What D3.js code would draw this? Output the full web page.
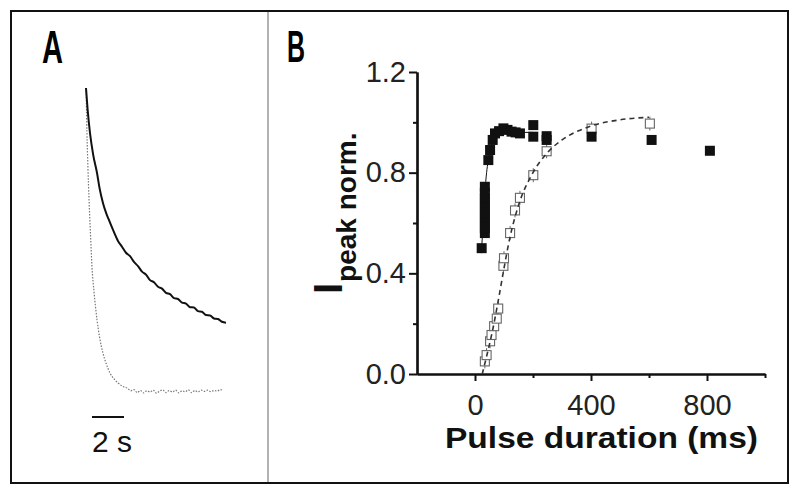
<!DOCTYPE html>
<html><head><meta charset="utf-8">
<script src="https://cdn.jsdelivr.net/npm/d3@7"></script>
<style>body{margin:0;background:#fff}svg{display:block}</style>
</head><body>
<svg id="c" width="800" height="495"></svg>
<script>
// ---------- Panel A: normalized current traces (time in s, normalized amplitude)
const slowTrace = [[0,1.0],[0.1,0.93],[0.25,0.852],[0.45,0.78],[0.69,0.72],[0.85,0.67],[1.06,0.622],[1.25,0.59],[1.4,0.57],[1.69,0.533],[2.0,0.497],[2.25,0.478],[2.5,0.458],[2.75,0.447],[3.0,0.428],[3.25,0.414],[3.5,0.396],[3.75,0.386],[4.0,0.368],[4.25,0.361],[4.5,0.346],[4.75,0.340],[5.0,0.326],[5.25,0.322],[5.5,0.309],[5.75,0.306],[6.0,0.294],[6.25,0.291],[6.5,0.279],[6.75,0.278],[7.0,0.266],[7.25,0.264],[7.5,0.253],[7.75,0.252],[8.0,0.242],[8.25,0.240],[8.5,0.231],[8.75,0.228]];
const fastTrace = [[0,1.0],[0.03,0.93],[0.06,0.852],[0.12,0.74],[0.19,0.632],[0.28,0.52],[0.375,0.411],[0.5,0.33],[0.69,0.237],[0.85,0.18],[1.06,0.128],[1.25,0.095],[1.5,0.0625],[1.8,0.04],[2.0,0.03],[2.31,0.018],[2.6,0.012],[2.8,0.004],[3.0,0.008],[3.2,-0.002],[3.4,0.005],[3.6,-0.003],[3.8,0.004],[4.0,0.0],[4.2,0.006],[4.4,-0.004],[4.6,0.003],[4.8,0.007],[5.0,-0.002],[5.2,0.005],[5.4,0.0],[5.6,0.006],[5.8,-0.003],[6.0,0.004],[6.2,0.001],[6.4,0.007],[6.6,-0.002],[6.8,0.005],[7.0,0.0],[7.2,0.006],[7.4,0.002],[7.6,0.006],[7.8,0.001],[8.0,0.005],[8.2,0.003],[8.4,0.008],[8.55,0.004]];
const scaleBar = [0.375, 2.375];
const scaleBarLabel = "2 s";

// ---------- Panel B: Ipeak norm. vs pulse duration (ms)
const filledPts = [[23,0.50],[34,0.56],[34,0.58],[34,0.60],[34,0.62],[34,0.64],[34,0.66],[34,0.68],[34,0.70],[34,0.72],[34,0.744],[46,0.85],[52,0.89],[61,0.93],[69,0.956],[83,0.965],[98,0.976],[112,0.97],[126,0.963],[140,0.96],[155,0.956],[201,0.989],[201,0.943],[247,0.945],[247,0.93],[402,0.943],[609,0.93],[810,0.887]];
const openPts = [[34,0.05],[40,0.075],[52,0.13],[57,0.155],[66,0.19],[75,0.22],[80,0.26],[98,0.43],[100,0.46],[121,0.56],[138,0.65],[155,0.70],[201,0.79],[247,0.885],[402,0.975],[603,0.995]];
const openFit = [[25,0.0],[40,0.07],[60,0.17],[80,0.29],[100,0.42],[120,0.54],[150,0.67],[200,0.80],[250,0.88],[300,0.93],[400,0.985],[500,1.01],[600,1.02]];
const filledFit = [[22,0.48],[28,0.6],[34,0.72],[40,0.8],[50,0.87],[60,0.92],[75,0.95],[100,0.96],[200,0.96]];
const yTicksMajor = [0, 0.4, 0.8, 1.2];
const yTicksMinor = [0.2, 0.6, 1.0];
const xTicksMajor = [0, 400, 800];
const xTicksMinor = [200, 600, 1000];
const xLabel = "Pulse duration (ms)";
const yLabelMain = "I", yLabelSub = "peak norm.";

const svg = d3.select("#c");
const FONT = "'Liberation Sans', Arial, sans-serif";

// frame
svg.append("rect").attr("x",11).attr("y",11).attr("width",777).attr("height",472)
  .attr("fill","none").attr("stroke","#111").attr("stroke-width",2);
svg.append("line").attr("x1",268).attr("x2",268).attr("y1",12).attr("y2",482)
  .attr("stroke","#999").attr("stroke-width",1.5);

// panel letters
svg.append("text").attr("x",42).attr("y",63).attr("textLength",21).attr("lengthAdjust","spacingAndGlyphs")
  .attr("font-family","'Liberation Sans Narrow', "+FONT).attr("font-weight","bold").attr("font-size",46).text("A");
svg.append("text").attr("x",287).attr("y",62).attr("textLength",18).attr("lengthAdjust","spacingAndGlyphs")
  .attr("font-family","'Liberation Sans Narrow', "+FONT).attr("font-weight","bold").attr("font-size",44).text("B");

// ----- Panel A
const ax = d3.scaleLinear().domain([0, 8.75]).range([86, 226]);
const ay = d3.scaleLinear().domain([0, 1]).range([392, 88]);
const aline = d3.line().x(d=>ax(d[0])).y(d=>ay(d[1])).curve(d3.curveMonotoneX);
svg.append("path").datum(fastTrace).attr("d",aline).attr("fill","none")
  .attr("stroke","#777").attr("stroke-width",1.2).attr("stroke-dasharray","1.5,1.5");
svg.append("path").datum(slowTrace).attr("d",aline).attr("fill","none")
  .attr("stroke","#111").attr("stroke-width",2);
svg.append("line").attr("x1",ax(scaleBar[0])).attr("x2",ax(scaleBar[1])).attr("y1",417).attr("y2",417)
  .attr("stroke","#111").attr("stroke-width",2);
svg.append("text").attr("x",ax(scaleBar[0])).attr("y",452).attr("font-family",FONT).attr("font-size",30)
  .attr("fill","#111").text(scaleBarLabel);

// ----- Panel B
const x = d3.scaleLinear().domain([-200, 1000]).range([417, 765]);
const y = d3.scaleLinear().domain([0, 1.2]).range([374, 72]);

const gB = svg.append("g");
// axes
const yAxis = d3.axisLeft(y).tickValues(yTicksMajor).tickSize(8).tickSizeOuter(0).tickPadding(3).tickFormat(d3.format(".1f"));
const yMinor = d3.axisLeft(y).tickValues(yTicksMinor).tickSize(4).tickSizeOuter(0).tickFormat("");
const xAxis = d3.axisBottom(x).tickValues(xTicksMajor).tickSize(7).tickSizeOuter(0).tickPadding(6).tickFormat(d3.format("d"));
const xMinor = d3.axisBottom(x).tickValues(xTicksMinor).tickSize(4).tickSizeOuter(0).tickFormat("");

function styleAxis(g){
  g.select(".domain").attr("stroke","#111").attr("stroke-width",2.2);
  g.selectAll(".tick line").attr("stroke","#111").attr("stroke-width",2);
  g.selectAll(".tick text").attr("font-family",FONT).attr("font-size",29).attr("fill","#222");
}
gB.append("g").attr("transform","translate(417,0)").call(yMinor).call(styleAxis);
gB.append("g").attr("transform","translate(417,0)").call(yAxis).call(styleAxis);
gB.append("g").attr("transform","translate(0,374)").call(xMinor).call(styleAxis);
gB.append("g").attr("transform","translate(0,374)").call(xAxis).call(styleAxis)
  .selectAll(".tick text").attr("dy","0.95em");

// labels
svg.append("text").attr("x",445).attr("y",448).attr("textLength",313).attr("lengthAdjust","spacingAndGlyphs")
  .attr("font-family",FONT).attr("font-weight","bold").attr("font-size",29).attr("fill","#111").text(xLabel);
const yl = svg.append("text").attr("transform","translate(342,294) rotate(-90)")
  .attr("font-family",FONT).attr("font-weight","bold").attr("fill","#111");
yl.append("tspan").attr("font-size",40).text(yLabelMain);
yl.append("tspan").attr("font-size",28).attr("dy",14).attr("dx",1).text(yLabelSub);

// fits and points
const bline = d3.line().x(d=>x(d[0])).y(d=>y(d[1])).curve(d3.curveMonotoneX);
const S = 9;
gB.append("path").datum(filledFit).attr("d",bline).attr("fill","none").attr("stroke","#111").attr("stroke-width",1);
// open squares with small error bars
gB.selectAll(".oerr").data(openPts).join("line")
  .attr("x1",d=>x(d[0])).attr("x2",d=>x(d[0])).attr("y1",d=>y(d[1])-7).attr("y2",d=>y(d[1])+7)
  .attr("stroke","#666").attr("stroke-width",1);
gB.selectAll(".open").data(openPts).join("rect")
  .attr("x",d=>x(d[0])-S/2).attr("y",d=>y(d[1])-S/2).attr("width",S).attr("height",S)
  .attr("fill","#fff").attr("stroke","#666").attr("stroke-width",1.1);
gB.append("path").datum(openFit).attr("d",bline).attr("fill","none")
  .attr("stroke","#333").attr("stroke-width",1.6).attr("stroke-dasharray","5,4");
gB.selectAll(".filled").data(filledPts).join("rect")
  .attr("x",d=>x(d[0])-S/2-0.5).attr("y",d=>y(d[1])-S/2-0.5).attr("width",S+1).attr("height",S+1)
  .attr("fill","#111");
</script>
</body></html>
